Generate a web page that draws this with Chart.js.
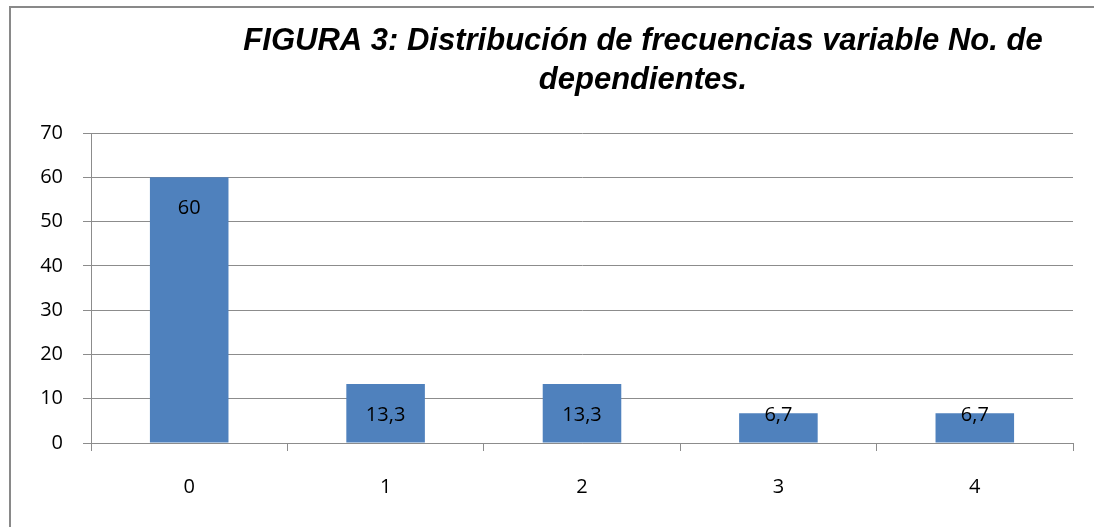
<!DOCTYPE html>
<html>
<head>
<meta charset="utf-8">
<script src="https://cdn.jsdelivr.net/npm/chart.js@4/dist/chart.umd.min.js"></script>
<style>
  body { margin: 0; background: #fff; }
  #wrap { width: 1094px; height: 527px; position: relative; }
</style>
</head>
<body>
<div id="wrap"><canvas id="myChart" width="1094" height="527"></canvas></div>
<script>
	var categories = ["0", "1", "2", "3", "4"];
	var values = [60, 13.3, 13.3, 6.7, 6.7];
	var valueLabels = ["60", "13,3", "13,3", "6,7", "6,7"];
	var titleLines = ["FIGURA 3: Distribución de frecuencias variable No. de", "dependientes."];

	var tickFont = { family: "'Open Sans', 'Noto Sans', sans-serif", size: 20 };
	var gridColor = "#8c8c8c";

	// frame + title drawn by hand
	var framePlugin = {
		id: "frame",
		beforeDraw: function(chart){
			var ctx = chart.ctx;
			ctx.save();
			ctx.fillStyle = "#fff";
			ctx.fillRect(0, 0, chart.width, chart.height);
			ctx.strokeStyle = "#898989";
			ctx.lineWidth = 2;
			ctx.strokeRect(10, 7, chart.width + 20, chart.height + 20);
			ctx.fillStyle = "#000";
			ctx.font = "italic bold 31px 'Liberation Sans', Arial, sans-serif";
			ctx.textAlign = "center";
			ctx.textBaseline = "middle";
			ctx.fillText(titleLines[0], 643, 41);
			ctx.fillText(titleLines[1], 643, 80);
			ctx.restore();
		}
	};

	// value labels inside bar end
	var labelPlugin = {
		id: "barLabels",
		afterDatasetsDraw: function(chart){
			var ctx = chart.ctx;
			var meta = chart.getDatasetMeta(0);
			ctx.save();
			ctx.fillStyle = "#000";
			ctx.font = "20px 'Open Sans', 'Noto Sans', sans-serif";
			ctx.textAlign = "center";
			ctx.textBaseline = "middle";
			meta.data.forEach(function(bar, i){
				var y = Math.min(bar.y + 31, bar.base - 27);
				ctx.fillText(valueLabels[i], bar.x, y);
			});
			ctx.restore();
		}
	};

	var chart = new Chart(document.getElementById("myChart"), {
		type: "bar",
		data: {
			labels: categories,
			datasets: [{
				data: values,
				backgroundColor: "#4f81bd",
				borderWidth: 0,
				barPercentage: 0.8,
				categoryPercentage: 0.5
			}]
		},
		options: {
			responsive: false,
			animation: false,
			layout: { padding: { left: 0, top: 133, right: 21, bottom: 0 } },
			plugins: {
				legend: { display: false },
				title: { display: false },
				tooltip: { enabled: false }
			},
			scales: {
				x: {
					grid: { drawOnChartArea: false, drawTicks: true, tickLength: 8, color: gridColor, offset: true },
					border: { display: true, color: gridColor, width: 1 },
					ticks: { color: "#000", font: tickFont, padding: 24 },
					afterFit: function(scale){ scale.height = 84; }
				},
				y: {
					min: 0,
					max: 70,
					ticks: { stepSize: 10, color: "#000", font: tickFont, padding: 20 },
					grid: { color: gridColor, tickLength: 8 },
					border: { display: true, color: gridColor, width: 1 },
					afterFit: function(scale){ scale.width = 91; }
				}
			}
		},
		plugins: [framePlugin, labelPlugin]
	});
</script>
</body>
</html>
